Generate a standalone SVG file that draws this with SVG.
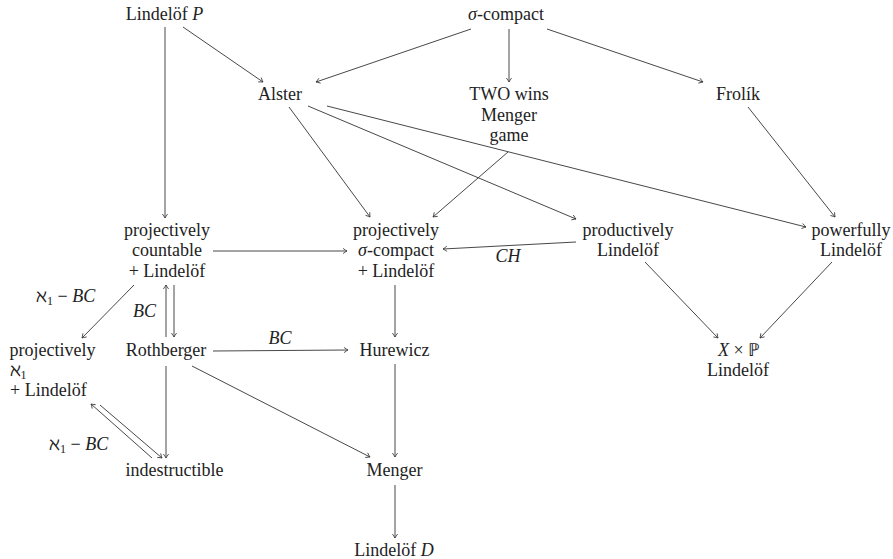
<svg xmlns="http://www.w3.org/2000/svg" width="893" height="559" viewBox="0 0 893 559" font-family="Liberation Serif" font-size="18">
<defs>
<marker id="a" markerUnits="userSpaceOnUse" markerWidth="10" markerHeight="10" viewBox="-6 -5 8 10" refX="0" refY="0" orient="auto">
<path d="M-4,-2.6 Q-1.2,-0.6 0,0 Q-1.2,0.6 -4,2.6" fill="none" stroke="#333" stroke-width="0.8"/>
</marker>
</defs>
<rect width="893" height="559" fill="#fff"/>
<g fill="#222" font-family="Liberation Serif" font-size="18">
<g id="n-lindelofP"><text font-family="Liberation Serif" font-size="18" text-anchor="middle" x="164.5" y="20">Lindel&#xF6;f <tspan font-style="italic">P</tspan></text></g>
<g id="n-sigma"><text font-family="Liberation Serif" font-size="18" text-anchor="middle" x="506" y="20"><tspan font-style="italic">&#x3C3;</tspan>-compact</text></g>
<g id="n-alster"><text font-family="Liberation Serif" font-size="18" text-anchor="middle" x="280" y="100">Alster</text></g>
<g id="n-two"><text font-family="Liberation Serif" font-size="18" text-anchor="middle" x="509" y="100">TWO wins</text><text font-family="Liberation Serif" font-size="18" text-anchor="middle" x="509" y="120.5">Menger</text><text font-family="Liberation Serif" font-size="18" text-anchor="middle" x="509" y="141">game</text></g>
<g id="n-frolik"><text font-family="Liberation Serif" font-size="18" text-anchor="middle" x="738" y="100">Frol&#xED;k</text></g>
<g id="n-pc"><text font-family="Liberation Serif" font-size="18" text-anchor="middle" x="167" y="235.5">projectively</text><text font-family="Liberation Serif" font-size="18" text-anchor="middle" x="167" y="256">countable</text><text font-family="Liberation Serif" font-size="18" text-anchor="middle" x="167" y="276.5">+ Lindel&#xF6;f</text></g>
<g id="n-psc"><text font-family="Liberation Serif" font-size="18" text-anchor="middle" x="396" y="235.5">projectively</text><text font-family="Liberation Serif" font-size="18" text-anchor="middle" x="396" y="256"><tspan font-style="italic">&#x3C3;</tspan>-compact</text><text font-family="Liberation Serif" font-size="18" text-anchor="middle" x="396" y="276.5">+ Lindel&#xF6;f</text></g>
<g id="n-prod"><text font-family="Liberation Serif" font-size="18" text-anchor="middle" x="628" y="235.5">productively</text><text font-family="Liberation Serif" font-size="18" text-anchor="middle" x="628" y="256">Lindel&#xF6;f</text></g>
<g id="n-pow"><text font-family="Liberation Serif" font-size="18" text-anchor="middle" x="851" y="235.5">powerfully</text><text font-family="Liberation Serif" font-size="18" text-anchor="middle" x="851" y="256">Lindel&#xF6;f</text></g>
<g id="n-pa"><text font-family="Liberation Serif" font-size="18" x="9.5" y="355.5">projectively</text><text font-family="Liberation Serif" font-size="18" x="9.5" y="375.5">&#x2135;<tspan font-size="12" dy="3">1</tspan></text><text font-family="Liberation Serif" font-size="18" x="10" y="396">+ Lindel&#xF6;f</text></g>
<g id="n-roth"><text font-family="Liberation Serif" font-size="18" text-anchor="middle" x="166" y="355.5">Rothberger</text></g>
<g id="n-hur"><text font-family="Liberation Serif" font-size="18" text-anchor="middle" x="394.5" y="355.5">Hurewicz</text></g>
<g id="n-xp"><text font-family="Liberation Serif" font-size="18" text-anchor="middle" x="739" y="356"><tspan font-style="italic">X</tspan> &#xD7; &#x2119;</text><text font-family="Liberation Serif" font-size="18" text-anchor="middle" x="738" y="376">Lindel&#xF6;f</text></g>
<g id="n-ind"><text font-family="Liberation Serif" font-size="18" text-anchor="middle" x="174.5" y="475.5">indestructible</text></g>
<g id="n-menger"><text font-family="Liberation Serif" font-size="18" text-anchor="middle" x="394.5" y="475.5">Menger</text></g>
<g id="n-lindD"><text font-family="Liberation Serif" font-size="18" text-anchor="middle" x="394" y="556">Lindel&#xF6;f <tspan font-style="italic">D</tspan></text></g>
<g id="edges" stroke="#333" stroke-width="0.9" fill="none" marker-end="url(#a)">
<line x1="165" y1="27" x2="165" y2="218"/>
<line x1="183" y1="27" x2="263" y2="82"/>
<line x1="471" y1="29" x2="316" y2="82"/>
<line x1="509" y1="29" x2="509" y2="82"/>
<line x1="547" y1="29" x2="703" y2="82"/>
<line x1="289" y1="107" x2="370" y2="217"/>
<line x1="308" y1="106" x2="576" y2="219"/>
<line x1="327" y1="106" x2="806" y2="227"/>
<line x1="508" y1="152" x2="433" y2="217"/>
<line x1="748" y1="107" x2="835" y2="217"/>
<line x1="213" y1="251" x2="347" y2="251"/>
<line x1="576" y1="242" x2="443" y2="249"/>
<line x1="134" y1="285" x2="82" y2="338"/>
<line x1="166" y1="337" x2="166" y2="285"/>
<line x1="174" y1="285" x2="174" y2="337"/>
<line x1="213" y1="351" x2="348" y2="350"/>
<line x1="166" y1="366" x2="166" y2="458"/>
<line x1="192" y1="366" x2="370" y2="457"/>
<line x1="395" y1="285" x2="395" y2="337"/>
<line x1="395" y1="364" x2="395" y2="457"/>
<line x1="395" y1="485" x2="395" y2="538"/>
<line x1="645" y1="262" x2="718" y2="338"/>
<line x1="832" y1="262" x2="760" y2="338"/>
<line x1="100" y1="405" x2="162" y2="458"/>
<line x1="152" y1="458" x2="91" y2="404"/>
</g>
<g id="labels">
<text font-family="Liberation Serif" font-size="18" font-style="italic" text-anchor="middle" x="508" y="262">CH</text>
<text font-family="Liberation Serif" font-size="18" x="36" y="302">&#x2135;<tspan font-size="12" dy="3">1</tspan><tspan dy="-3"> &#x2212; </tspan><tspan font-style="italic">BC</tspan></text>
<text font-family="Liberation Serif" font-size="18" font-style="italic" x="133" y="317">BC</text>
<text font-family="Liberation Serif" font-size="18" font-style="italic" text-anchor="middle" x="280" y="344">BC</text>
<text font-family="Liberation Serif" font-size="18" x="49" y="450">&#x2135;<tspan font-size="12" dy="3">1</tspan><tspan dy="-3"> &#x2212; </tspan><tspan font-style="italic">BC</tspan></text>
</g>
</g>
</svg>
